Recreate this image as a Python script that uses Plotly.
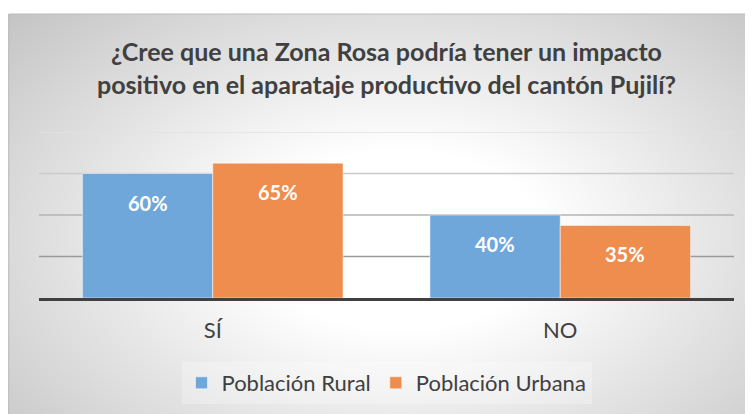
import base64
import struct
import zlib

import numpy as np
import plotly.graph_objects as go

# Data
categories = ["SÍ", "NO"]
rural = [0.60, 0.40]
urbana = [0.65, 0.35]
series_names = ["Población Rural", "Población Urbana"]
tick_vals = [0.2, 0.4, 0.6, 0.8]

TITLE = ("¿Cree que una Zona Rosa podría tener un impacto<br>"
         "positivo en el aparataje productivo del cantón Pujilí?")

W, H = 753, 414
BLUE = "#70A7DA"
ORANGE = "#EE8D4E"
TEXT = "#404040"
FONT = "Lato"

# the page body adds an 8px margin, so positions are the reference minus 8
OFF = 8
PX0, PX1 = 39 - OFF, 734 - OFF
PY0, PY1 = 132 - OFF, 298 - OFF
FX0, FY0 = 8 - OFF, 14 - OFF  # grey frame top-left


def png_uri(arr):
    h, w, _ = arr.shape
    raw = b"".join(b"\x00" + arr[r].tobytes() for r in range(h))

    def chunk(tag, data):
        c = struct.pack(">I", len(data)) + tag + data
        return c + struct.pack(">I", zlib.crc32(tag + data) & 0xFFFFFFFF)

    png = b"\x89PNG\r\n\x1a\n"
    png += chunk(b"IHDR", struct.pack(">IIBBBBB", w, h, 8, 2, 0, 0, 0))
    png += chunk(b"IDAT", zlib.compress(raw, 9))
    png += chunk(b"IEND", b"")
    return "data:image/png;base64," + base64.b64encode(png).decode()


# radial grey-to-white background, like the Excel chart area
fw, fh = W - FX0, H - FY0
yy, xx = np.mgrid[0:fh, 0:fw]
d = np.sqrt(((xx - 392) / 420.0) ** 2 + ((yy - 226) / 260.0) ** 2)
t = np.clip((d - 0.35) / 0.95, 0, 1)
g = (255 - 60 * t).astype(np.uint8)
bg = np.dstack([g, g, g])

fig = go.Figure()
fig.add_trace(go.Bar(x=categories, y=rural, name=series_names[0],
                     marker=dict(color=BLUE, line=dict(color="rgba(255,255,255,0.5)", width=1))))
fig.add_trace(go.Bar(x=categories, y=urbana, name=series_names[1],
                     marker=dict(color=ORANGE, line=dict(color="rgba(255,255,255,0.5)", width=1))))

# data labels inside the top of each bar
half = (PX1 - PX0) / 2 * 0.75 / 4
for sign, vals in [(-1, rural), (1, urbana)]:
    for cat, v in zip(categories, vals):
        fig.add_annotation(x=cat, y=v, text=f"<b>{round(v * 100)}%</b>", showarrow=False,
                           xshift=sign * half, yshift=-29, yanchor="middle",
                           font=dict(family=FONT, size=20, color="white"))

# gridlines, getting darker toward the baseline
grid_cols = ["#9a9a9a", "#b4b4b4", "#cacaca", "#e2e2e2"]
for v, c in zip(tick_vals, grid_cols):
    fig.add_shape(type="line", xref="x domain", yref="y", x0=0, x1=1, y0=v, y1=v,
                  line=dict(color=c, width=1.5), layer="below")

# frame border
fig.add_shape(type="rect", xref="paper", yref="paper", x0=FX0 / W + 0.001, x1=1.01, y0=-0.01,
              y1=1 - FY0 / H, line=dict(color="#bcbcbc", width=1), layer="below")

fig.add_layout_image(source=png_uri(bg), xref="paper", yref="paper",
                     x=FX0 / W, y=1 - FY0 / H, sizex=fw / W, sizey=fh / H,
                     xanchor="left", yanchor="top", sizing="stretch", layer="below")

fig.update_layout(
    width=W, height=H,
    margin=dict(l=0, r=0, t=0, b=0),
    paper_bgcolor="white",
    plot_bgcolor="rgba(0,0,0,0)",
    barmode="group", bargap=0.25, bargroupgap=0,
    title=dict(text=TITLE, x=(PX0 + PX1) / 2 / W, xanchor="center",
               y=1 - (61 - OFF) / H, yanchor="middle",
               font=dict(family=FONT, size=25, color=TEXT, weight="bold")),
    legend=dict(orientation="h", x=(PX0 + PX1) / 2 / W, xanchor="center",
                y=1 - (383 - OFF) / H, yanchor="middle", bgcolor="rgba(255,255,255,0.25)",
                font=dict(family=FONT, size=22, color=TEXT), itemwidth=30),
    showlegend=True,
)
fig.update_xaxes(domain=[PX0 / W, PX1 / W], showline=True, linecolor="#404040", linewidth=3,
                 ticks="", tickfont=dict(family=FONT, size=22, color=TEXT),
                 automargin=False, ticklabelstandoff=11)
fig.update_yaxes(domain=[1 - PY1 / H, 1 - PY0 / H], range=[0, 0.8], showgrid=False,
                 showticklabels=False, zeroline=False, automargin=False)

fig.write_html("out.html")
